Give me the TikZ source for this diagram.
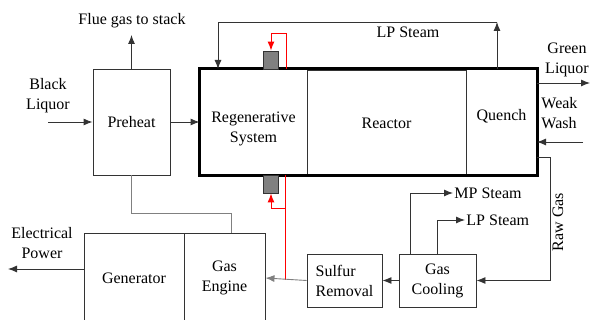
\documentclass[tikz,border=0pt]{standalone}
\usepackage{fontspec}
\setmainfont{Liberation Serif}
\usetikzlibrary{arrows.meta}
\begin{document}
\begin{tikzpicture}[x=1pt, y=-1pt, >={Latex[length=9pt,width=7pt]}, line width=0.9pt,
    font=\fontsize{16}{20}\selectfont,
    blk/.style={draw=black!80, inner sep=0pt, align=center},
    valve/.style={draw=black!80, fill=gray, minimum width=15pt, minimum height=18pt, inner sep=0pt},
    flow/.style={->, draw=black!80},
    hot/.style={->, draw=red, line width=1pt}]
    \clip (0,0) rectangle (590,320);

    % units
    \node[blk, minimum width=77pt, minimum height=106pt] (preheat) at (131.5,122) {Preheat};
    \node[blk, minimum width=107pt, minimum height=106pt] (regen) at (253.5,122) {};
    \node[blk, minimum width=159pt, minimum height=106pt] (reactor) at (386.5,123) {Reactor};
    \node[blk, minimum width=71pt, minimum height=106pt] (quench) at (501.5,122) {};
    \node[align=center] (tregen) at (253.5,129) {Regenerative\\System};
    \node (tquench) at (501.5,116) {Quench};
    \draw[line width=2.6pt] (regen.north west) rectangle (quench.south east);
    \node[valve] (valveT) at (271,60) {};
    \node[valve] (valveB) at (271,184) {};

    \node[blk, minimum width=100pt, minimum height=90pt] (generator) at (134,278) {Generator};
    \node[blk, minimum width=81pt, minimum height=90pt] (engine) at (224.5,278) {Gas\\Engine};
    \node[blk, minimum width=75pt, minimum height=53pt, align=left] (sulfur) at (344.5,280.5) {Sulfur\\Removal};
    \node[blk, minimum width=77pt, minimum height=53pt] (cooling) at (437.5,280.5) {Gas\\Cooling};

    % free ends
    \coordinate (flue) at (131.5,35);
    \coordinate (liquor) at (48,122);
    \coordinate (qtop) at (497,69);
    \coordinate (lpturn) at (497,22);
    \coordinate (lpback) at (218,22);
    \coordinate (regin) at (218,69);
    \coordinate (hotT) at (286,69);
    \coordinate (hotTup) at (286,34);
    \coordinate (hotB) at (285,175);
    \coordinate (hotBlow) at (285,280.5);
    \coordinate (hotBr) at (285,209);
    \coordinate (genout) at (84,269);
    \coordinate (power) at (8,269);
    \coordinate (gein) at (231,233);
    \coordinate (rawout) at (537,157);
    \coordinate (rawturn) at (550,157);
    \coordinate (washin) at (537,142);
    \coordinate (wash) at (583,142);
    \coordinate (greenout) at (537,83);
    \coordinate (green) at (590,83);
    \coordinate (mp) at (453,193);
    \coordinate (lp) at (465,220);

    % labels
    \node (lflue) at (132,21) {Flue gas to stack};
    \node[align=center] (lliquor) at (48,96) {Black\\Liquor};
    \node (llp) at (408,32) {LP Steam};
    \node[align=center] (lgreen) at (567,60) {Green\\Liquor};
    \node[align=left, anchor=west, inner sep=0pt] (lwash) at (541,113) {Weak\\Wash};
    \node[rotate=90] (lraw) at (558,222) {Raw Gas};
    \node[align=center] (lpower) at (42,243) {Electrical\\Power};
    \node[anchor=west, inner sep=1pt] (lmp) at (mp) {MP Steam};
    \node[anchor=west, inner sep=1pt] (llp2) at (lp) {LP Steam};

    % streams
    \draw[flow] (preheat.north) -- (flue);
    \draw[flow] (liquor) -- (preheat.west);
    \draw[flow] (preheat.east) -- (regen.west);
    \draw[flow] (qtop) -- (lpturn);
    \draw[flow] (lpturn) -- (lpback) -- (regin);
    \draw[flow] (greenout) -- (green);
    \draw[flow] (wash) -- (washin);
    \draw[flow] (rawout) -- (rawturn) |- (cooling.east);
    \draw[flow] (cooling.west) -- (sulfur.east);
    \draw[gray] (preheat.south) -- ++(0,38) -| (gein);
    \draw[flow] (genout) -- (power);
    \draw[flow] (cooling.north -| 410,0) |- (mp);
    \draw[flow] (cooling.north) |- (lp);

    % hot loops
    \draw[hot] (hotT) -- (hotTup) -| (valveT.north);
    \draw[red, line width=1pt] (hotB) -- (hotBlow);
    \draw[hot] (hotBr) -| (valveB.south);
    \draw[flow, draw=gray] (sulfur.west) -- (engine.east);
\end{tikzpicture}
\end{document}
